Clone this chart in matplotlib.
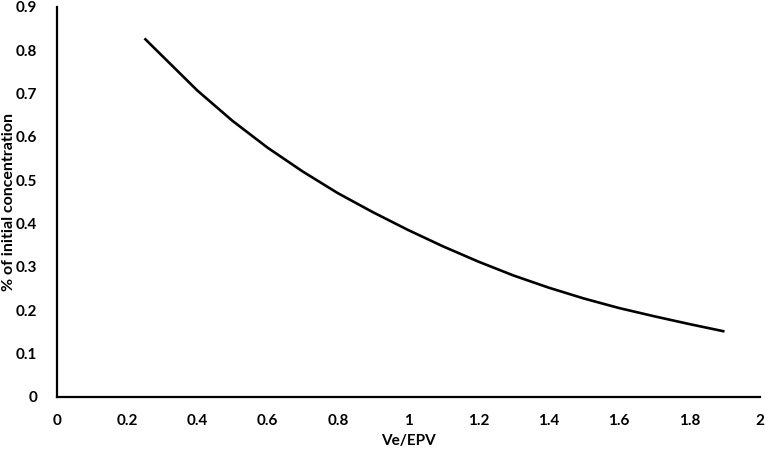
import matplotlib
matplotlib.use("Agg")
import matplotlib.pyplot as plt

# values
ve_epv = [0.25, 0.3, 0.4, 0.5, 0.6, 0.7, 0.8, 0.9, 1.0, 1.1,
          1.2, 1.3, 1.4, 1.5, 1.6, 1.7, 1.8, 1.9]
conc = [0.827, 0.787, 0.707, 0.637, 0.575, 0.52, 0.47, 0.426, 0.385, 0.347,
        0.312, 0.28, 0.252, 0.227, 0.205, 0.186, 0.168, 0.151]

xticks = [0, 0.2, 0.4, 0.6, 0.8, 1, 1.2, 1.4, 1.6, 1.8, 2]
xticklabels = ["0", "0.2", "0.4", "0.6", "0.8", "1", "1.2", "1.4", "1.6", "1.8", "2"]
yticks = [0, 0.1, 0.2, 0.3, 0.4, 0.5, 0.6, 0.7, 0.8, 0.9]
yticklabels = ["0", "0.1", "0.2", "0.3", "0.4", "0.5", "0.6", "0.7", "0.8", "0.9"]

plt.rcParams['font.family'] = ['Lato', 'DejaVu Sans']

fig = plt.figure(figsize=(7.65, 4.5), dpi=100)
ax = fig.add_axes([0.074, 0.118, 0.919, 0.867])

ax.plot(ve_epv, conc, color='black', linewidth=1.9, solid_capstyle='butt')

ax.set_xlim(0, 2)
ax.set_ylim(0, 0.9)
ax.set_xticks(xticks)
ax.set_xticklabels(xticklabels, fontsize=11, fontweight='bold')
ax.set_yticks(yticks)
ax.set_yticklabels(yticklabels, fontsize=11, fontweight='bold')
ax.tick_params(axis='x', length=0, pad=12)
ax.tick_params(axis='y', length=0, pad=14)

for s in ['top', 'right']:
    ax.spines[s].set_visible(False)
for s in ['left', 'bottom']:
    ax.spines[s].set_linewidth(1.6)
    ax.spines[s].set_color('black')

ax.set_xlabel("Ve/EPV", fontsize=11, fontweight='bold')
ax.set_ylabel("% of initial concentration", fontsize=11.5, fontweight='bold')
ax.xaxis.set_label_coords(0.5, -0.095)
ax.yaxis.set_label_coords(-0.058, 0.5)

fig.savefig("out.png", dpi=100)
